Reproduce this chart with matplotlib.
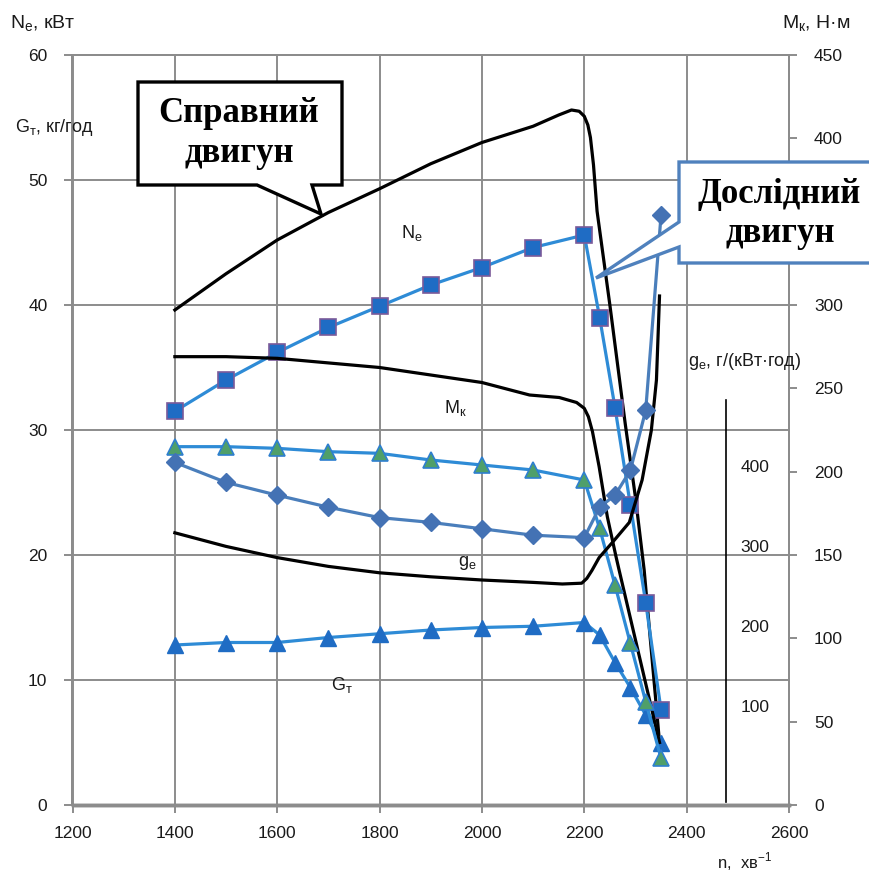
import matplotlib
matplotlib.use('Agg')
import matplotlib.pyplot as plt
from matplotlib.patches import Polygon

# ---------------- data ----------------
# experimental engine ("Дослідний двигун")
rpm_exp = [1400, 1500, 1600, 1700, 1800, 1900, 2000, 2100, 2200, 2230, 2260, 2290, 2320, 2350]
Ne_exp = [31.5, 34.0, 36.2, 38.2, 39.9, 41.6, 43.0, 44.6, 45.6, 39.0, 31.8, 24.0, 16.2, 7.6]      # кВт
Mk_exp = [215, 215, 214, 212, 211, 207, 204, 201, 195, 166, 132, 97, 62, 28]                       # Н·м
Gt_exp = [12.8, 13.0, 13.0, 13.4, 13.7, 14.0, 14.2, 14.3, 14.6, 13.6, 11.4, 9.4, 7.2, 5.0]       # кг/год
ge_exp = [407, 382, 366, 351, 338, 332, 324, 316, 313, 351, 366, 397, 472, 716]                  # г/(кВт·год)

# serviceable engine ("Справний двигун")
rpm_Ne_ref = [1400, 1500, 1600, 1700, 1800, 1900, 2000, 2100, 2150, 2175, 2190, 2200, 2207, 2212,
              2218, 2225, 2250, 2280, 2300, 2317, 2347]
Ne_ref = [39.6, 42.5, 45.2, 47.4, 49.3, 51.3, 53.0, 54.3, 55.2, 55.6, 55.5, 55.1, 54.4, 53.4,
          51.2, 47.5, 40.0, 30.5, 24.6, 18.8, 5.0]
rpm_Mk_ref = [1400, 1500, 1600, 1800, 2000, 2093, 2151, 2185, 2200, 2208, 2216, 2229, 2245, 2262,
              2268, 2347]
Mk_ref = [269, 269, 268, 262.5, 253.5, 246, 244.5, 241.5, 238, 233, 224, 203, 173, 149, 141, 37.5]
rpm_ge_ref = [1400, 1500, 1600, 1700, 1800, 1900, 2000, 2100, 2157, 2195, 2205, 2215, 2229, 2255,
              2288, 2313, 2331, 2341, 2347]
ge_ref = [319, 302, 288, 277, 269, 264, 260, 257, 255, 256, 262, 272, 288, 307, 332, 385, 447,
          510, 615]

x_ticks = [1200, 1400, 1600, 1800, 2000, 2200, 2400, 2600]
left_ticks = [0, 10, 20, 30, 40, 50, 60]
right_ticks = [0, 50, 100, 150, 200, 250, 300, 400, 450]   # 350 is hidden by the callout
ge_ticks = [100, 200, 300, 400]

# ---------------- layout ----------------
W, H = 870, 881
fig = plt.figure(figsize=(W / 100, H / 100), dpi=100)
L, R, T, B = 72.5, 789, 55, 805


def fx(px):
    return px / W


def fy(py):
    return 1 - py / H


GRID = '#8c8c8c'
TXT = '#1a1a1a'
SANS = ['Liberation Sans', 'DejaVu Sans']
SERIF = ['Liberation Serif', 'DejaVu Serif']

ax = fig.add_axes([fx(L), fy(B), (R - L) / W, (B - T) / H])
ax2 = ax.twinx()
ax3 = ax.twinx()

ax.set_xlim(1200, 2600)
ax.set_ylim(0, 60)
ax2.set_ylim(0, 450)
ax3.set_ylim(-21.25, 916.25)

ax.set_xticks(x_ticks)
ax.set_yticks(left_ticks)
ax2.set_yticks(right_ticks)
ax3.set_yticks([])

ax.grid(True, color=GRID, lw=1.4)
ax.set_axisbelow(True)

for a in (ax, ax2, ax3):
    for s in a.spines.values():
        s.set_color(GRID)
        s.set_linewidth(1.4)
    a.spines['bottom'].set_linewidth(2.4)

ax.tick_params(axis='x', direction='out', length=6, width=1.4, color=GRID, pad=9,
               labelsize=12.5, labelcolor=TXT)
ax.tick_params(axis='y', direction='out', length=6, width=1.4, color=GRID, pad=12,
               labelsize=12.5, labelcolor=TXT)
ax2.tick_params(axis='y', direction='out', length=6, width=1.4, color=GRID, pad=12,
                labelsize=12.5, labelcolor=TXT)
ax3.tick_params(axis='y', length=0)
for lab in ax.get_xticklabels() + ax.get_yticklabels() + ax2.get_yticklabels():
    lab.set_family(SANS)

# ---------------- reference engine (black) ----------------
ax.plot(rpm_Ne_ref, Ne_ref, color='black', lw=2.3, zorder=3, solid_joinstyle='round')
ax2.plot(rpm_Mk_ref, Mk_ref, color='black', lw=2.3, zorder=3, solid_joinstyle='round')
ax3.plot(rpm_ge_ref, ge_ref, color='black', lw=2.3, zorder=3, solid_joinstyle='round')

# ---------------- experimental engine (blue, markers) ----------------
LINE = '#2e8bd6'
ax.plot(rpm_exp, Ne_exp, color=LINE, lw=2.3, marker='s', ms=11,
        mfc='#1f6cc4', mec='#7a5a9a', mew=1.2, zorder=5)
ax2.plot(rpm_exp, Mk_exp, color=LINE, lw=2.3, marker='^', ms=11,
         mfc='#4f9f6a', mec='#2e7fcf', mew=1.2, zorder=5)
ax.plot(rpm_exp, Gt_exp, color=LINE, lw=2.3, marker='^', ms=11,
        mfc='#1f6cc4', mec='#1f6cc4', mew=1.0, zorder=5)
ax3.plot(rpm_exp, ge_exp, color='#4a7ebb', lw=2.3, marker='D', ms=9,
         mfc='#4472b4', mec='#4472b4', zorder=5)

# ---------------- inner g_e scale ----------------
ax3.plot([2477, 2477], [-17, 485], color='black', lw=1.2, zorder=4)
for v in ge_ticks:
    ax3.text(2533, v, str(v), ha='center', va='center', fontsize=12.5, color=TXT, family=SANS)

# ---------------- axis titles and curve labels ----------------
fig.text(fx(10), fy(24), r'N$_\mathregular{е}$, кВт', fontsize=14, color=TXT, va='center',
         ha='left', family=SANS)
fig.text(fx(850), fy(24), r'M$_\mathregular{к}$, Н·м', fontsize=14, color=TXT, va='center',
         ha='right', family=SANS)
fig.text(fx(15), fy(128), r'G$_\mathregular{т}$, кг/год', fontsize=13, color=TXT, va='center',
         ha='left', family=SANS)
fig.text(fx(688), fy(361), r'g$_\mathregular{е}$, г/(кВт·год)', fontsize=13, color=TXT,
         va='center', ha='left', family=SANS)
fig.text(fx(745), fy(862), r'n,  хв$^\mathregular{-1}$', fontsize=12, color=TXT,
         va='center', ha='center', family=SANS)

fig.text(fx(412), fy(233), r'N$_\mathregular{е}$', fontsize=13, color=TXT, ha='center',
         va='center', family=SANS)
fig.text(fx(455), fy(408), r'M$_\mathregular{к}$', fontsize=13, color=TXT, ha='center',
         va='center', family=SANS)
fig.text(fx(467), fy(563), r'g$_\mathregular{е}$', fontsize=13, color=TXT, ha='center',
         va='center', family=SANS)
fig.text(fx(342), fy(685), r'G$_\mathregular{т}$', fontsize=13, color=TXT, ha='center',
         va='center', family=SANS)

# ---------------- callouts ----------------
left_box = [(138, 82), (342, 82), (342, 185), (312, 185), (321, 214), (257, 185), (138, 185)]
right_box = [(679, 162), (885, 162), (885, 263), (679, 263), (679, 247), (596, 278), (679, 222)]
fig.patches.append(Polygon([(fx(x), fy(y)) for x, y in left_box], closed=True,
                           transform=fig.transFigure, facecolor='white', edgecolor='black',
                           lw=2.4, joinstyle='miter', zorder=10))
fig.patches.append(Polygon([(fx(x), fy(y)) for x, y in right_box], closed=True,
                           transform=fig.transFigure, facecolor='white', edgecolor='#4f81bd',
                           lw=2.4, joinstyle='miter', zorder=10))

cfont = dict(family=SERIF, weight='bold', fontsize=25, color='black', zorder=11,
             ha='center', va='baseline')
fig.text(fx(239), fy(122), 'Справний', **cfont)
fig.text(fx(239), fy(162), 'двигун', **cfont)
fig.text(fx(779), fy(203), 'Дослідний', **cfont)
fig.text(fx(780), fy(242), 'двигун', **cfont)

fig.savefig('out.png', dpi=100)
